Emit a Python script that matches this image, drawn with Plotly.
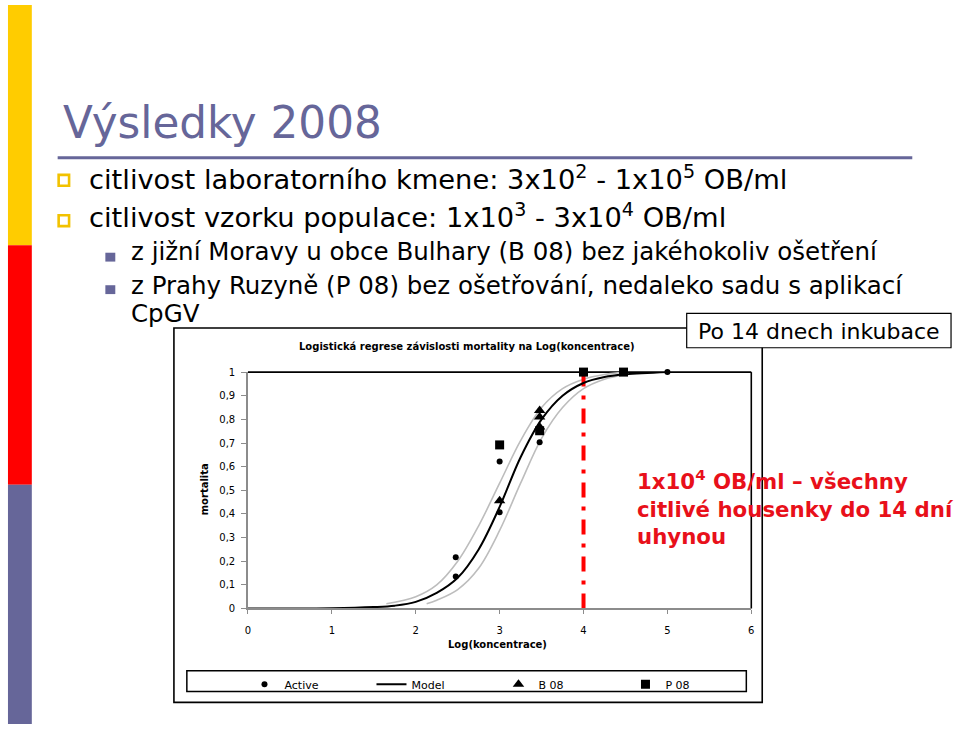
import plotly.graph_objects as go

W, H = 960, 732

# ---------------- data ----------------
xticks = [0, 1, 2, 3, 4, 5, 6]
yticks = [0, 0.1, 0.2, 0.3, 0.4, 0.5, 0.6, 0.7, 0.8, 0.9, 1]
ytick_labels = ["0", "0,1", "0,2", "0,3", "0,4", "0,5", "0,6", "0,7", "0,8", "0,9", "1"]

active_x = [2.477, 2.477, 3.0, 3.0, 3.477, 4.0, 4.477, 5.0]
active_y = [0.217, 0.135, 0.622, 0.407, 0.703, 1.0, 1.0, 1.0]

b08_x = [3.0, 3.477, 3.477, 3.477]
b08_y = [0.456, 0.838, 0.81, 0.768]

p08_x = [3.0, 3.477, 4.0, 4.477]
p08_y = [0.692, 0.752, 1.0, 1.0]

model_x = [0, 1, 1.5, 1.75, 2, 2.25, 2.5, 2.75, 3, 3.25, 3.5, 3.75, 4, 4.25, 4.5, 5]
model_y = [0, 0.001, 0.006, 0.012, 0.028, 0.066, 0.13, 0.25, 0.43, 0.64, 0.80, 0.90, 0.954, 0.979, 0.99, 1.0]

upper_x = [1.65, 2, 2.25, 2.5, 2.75, 3, 3.25, 3.5, 3.75, 4, 4.25, 4.5]
upper_y = [0.02, 0.05, 0.10, 0.20, 0.35, 0.53, 0.71, 0.85, 0.93, 0.97, 0.99, 1.0]

lower_x = [2.13, 2.25, 2.5, 2.75, 3, 3.25, 3.5, 3.75, 4, 4.25, 4.5]
lower_y = [0.02, 0.035, 0.08, 0.17, 0.33, 0.53, 0.72, 0.85, 0.93, 0.97, 0.99]

threshold_x = 4

# ---------------- helpers ----------------
def X(px):
    return px / W

def Y(py):
    return 1 - py / H

SLIDE_FONT = "Tahoma, DejaVu Sans, Verdana, sans-serif"
CHART_FONT = "Verdana, DejaVu Sans, sans-serif"
PURPLE = "#666699"
YELLOW = "#FFCC00"
RED = "#FF0000"
TXTRED = "#E8101A"

plot_l, plot_r, plot_t, plot_b = 246.5, 753, 372.7, 612.7

fig = go.Figure()

# confidence bands
fig.add_trace(go.Scatter(x=upper_x, y=upper_y, mode="lines", line=dict(color="#bdbdbd", width=1.6, shape="spline"),
                         showlegend=False, hoverinfo="skip"))
fig.add_trace(go.Scatter(x=lower_x, y=lower_y, mode="lines", line=dict(color="#bdbdbd", width=1.6, shape="spline"),
                         showlegend=False, hoverinfo="skip"))
# threshold line
fig.add_trace(go.Scatter(x=[threshold_x, threshold_x], y=[0, 1], mode="lines",
                         line=dict(color=RED, width=4, dash="15px,9px,4px,9px"),
                         showlegend=False, hoverinfo="skip"))

fig.add_trace(go.Scatter(x=active_x, y=active_y, mode="markers", name="Active",
                         marker=dict(symbol="circle", size=6, color="black"), cliponaxis=False))
fig.add_trace(go.Scatter(x=model_x, y=model_y, mode="lines", name="Model",
                         line=dict(color="black", width=2, shape="spline"), cliponaxis=False))
fig.add_trace(go.Scatter(x=b08_x, y=b08_y, mode="markers", name="B 08",
                         marker=dict(symbol="triangle-up", size=10, color="black"), cliponaxis=False))
fig.add_trace(go.Scatter(x=p08_x, y=p08_y, mode="markers", name="P 08",
                         marker=dict(symbol="square", size=9, color="black"), cliponaxis=False))

fig.update_layout(
    width=W, height=H,
    margin=dict(l=0, r=0, t=0, b=0),
    paper_bgcolor="white", plot_bgcolor="white",
    font=dict(family=CHART_FONT, color="black"),
    xaxis=dict(domain=[X(plot_l), X(plot_r)], range=[0, 6], tickvals=xticks, ticktext=[str(v) for v in xticks],
               showgrid=False, zeroline=False, showline=True, linecolor="#8c8c8c", linewidth=1.5,
               ticks="outside", ticklen=4, tickcolor="#8c8c8c", ticklabelstandoff=8,
               tickfont=dict(size=10, family=CHART_FONT)),
    yaxis=dict(domain=[Y(plot_b), Y(plot_t)], range=[0, 1], tickvals=yticks, ticktext=ytick_labels,
               showgrid=False, zeroline=False, showline=True, linecolor="#8c8c8c", linewidth=1.5,
               ticks="outside", ticklen=5, tickcolor="#8c8c8c", ticklabelstandoff=4,
               tickfont=dict(size=10, family=CHART_FONT)),
    showlegend=True,
    legend=dict(orientation="h", x=X(243), y=Y(675), xanchor="left", yanchor="top",
                entrywidth=82, entrywidthmode="pixels", bgcolor="rgba(0,0,0,0)",
                font=dict(size=11, family=CHART_FONT), itemsizing="trace"),
)

shapes = []
# left color stripes
shapes.append(dict(type="rect", xref="paper", yref="paper", x0=X(5), x1=X(29), y0=Y(0), y1=Y(244),
                   fillcolor=YELLOW, line=dict(width=0), layer="below"))
shapes.append(dict(type="rect", xref="paper", yref="paper", x0=X(5), x1=X(29), y0=Y(244), y1=Y(487),
                   fillcolor=RED, line=dict(width=0), layer="below"))
shapes.append(dict(type="rect", xref="paper", yref="paper", x0=X(5), x1=X(29), y0=Y(487), y1=Y(730),
                   fillcolor=PURPLE, line=dict(width=0), layer="below"))
# title underline
shapes.append(dict(type="line", xref="paper", yref="paper", x0=X(55), x1=X(915), y0=Y(155), y1=Y(155),
                   line=dict(color=PURPLE, width=3)))
# yellow bullets
for cy in (178, 219):
    shapes.append(dict(type="rect", xref="paper", yref="paper", x0=X(56), x1=X(66.5), y0=Y(cy - 5.5), y1=Y(cy + 5.5),
                       line=dict(color="#F2C200", width=2.6), fillcolor="white"))
# purple sub-bullets
for cy in (256, 289):
    shapes.append(dict(type="rect", xref="paper", yref="paper", x0=X(103), x1=X(113), y0=Y(cy - 4.5), y1=Y(cy + 4.5),
                       line=dict(width=0), fillcolor=PURPLE))
# outer chart box
shapes.append(dict(type="rect", xref="paper", yref="paper", x0=X(172), x1=X(764), y0=Y(328), y1=Y(708),
                   line=dict(color="black", width=1.6), fillcolor="rgba(0,0,0,0)", layer="below"))
# plot area top & right border
shapes.append(dict(type="line", xref="paper", yref="paper", x0=X(plot_l), x1=X(plot_r), y0=Y(plot_t), y1=Y(plot_t),
                   line=dict(color="black", width=1.6), layer="below"))
shapes.append(dict(type="line", xref="paper", yref="paper", x0=X(plot_r), x1=X(plot_r), y0=Y(plot_t), y1=Y(plot_b),
                   line=dict(color="black", width=1.6), layer="below"))
# legend box
shapes.append(dict(type="rect", xref="paper", yref="paper", x0=X(185), x1=X(748), y0=Y(676), y1=Y(697),
                   line=dict(color="black", width=1.5), fillcolor="rgba(0,0,0,0)"))
# "Po 14 dnech inkubace" box
shapes.append(dict(type="rect", xref="paper", yref="paper", x0=X(688), x1=X(954), y0=Y(313), y1=Y(348),
                   line=dict(color="black", width=1.2), fillcolor="white"))
fig.update_layout(shapes=shapes)

ann = []
def text(x, y, s, size, color="black", family=SLIDE_FONT, xanchor="left", bold=False, angle=0, yanchor="middle"):
    if bold:
        s = "<b>" + s + "</b>"
    ann.append(dict(x=X(x), y=Y(y), xref="paper", yref="paper", text=s, showarrow=False,
                    xanchor=xanchor, yanchor=yanchor, textangle=angle, align="left",
                    font=dict(size=size, color=color, family=family)))

text(58, 119, "Výsledky 2008", 43.7, color=PURPLE)
text(85, 175, "citlivost laboratorního kmene: 3x10<sup>2</sup> - 1x10<sup>5</sup> OB/ml", 27.3)
text(85, 214, "citlivost vzorku populace: 1x10<sup>3</sup> - 3x10<sup>4</sup> OB/ml", 27.3)
text(127, 250, "z jižní Moravy u obce Bulhary (B 08) bez jakéhokoliv ošetření", 24.5)
text(127, 285, "z Prahy Ruzyně (P 08) bez ošetřování, nedaleko sadu s aplikací", 24.5)
text(127, 313, "CpGV", 24.5)
text(821, 331, "Po 14 dnech inkubace", 22, xanchor="center")
text(467, 347, "Logistická regrese závislosti mortality na Log(koncentrace)", 10, family=CHART_FONT,
     xanchor="center", bold=True)
text(498, 649, "Log(koncentrace)", 10, family=CHART_FONT, xanchor="center", bold=True)
text(203, 492, "mortalita", 10, family=CHART_FONT, xanchor="center", bold=True, angle=-90)
text(636, 510, "1x10<sup>4</sup> OB/ml – všechny<br>citlivé housenky do 14 dní<br>uhynou", 21.3,
     color=TXTRED, family=SLIDE_FONT, bold=True)
fig.update_layout(annotations=ann)

fig.write_html("out.html")
